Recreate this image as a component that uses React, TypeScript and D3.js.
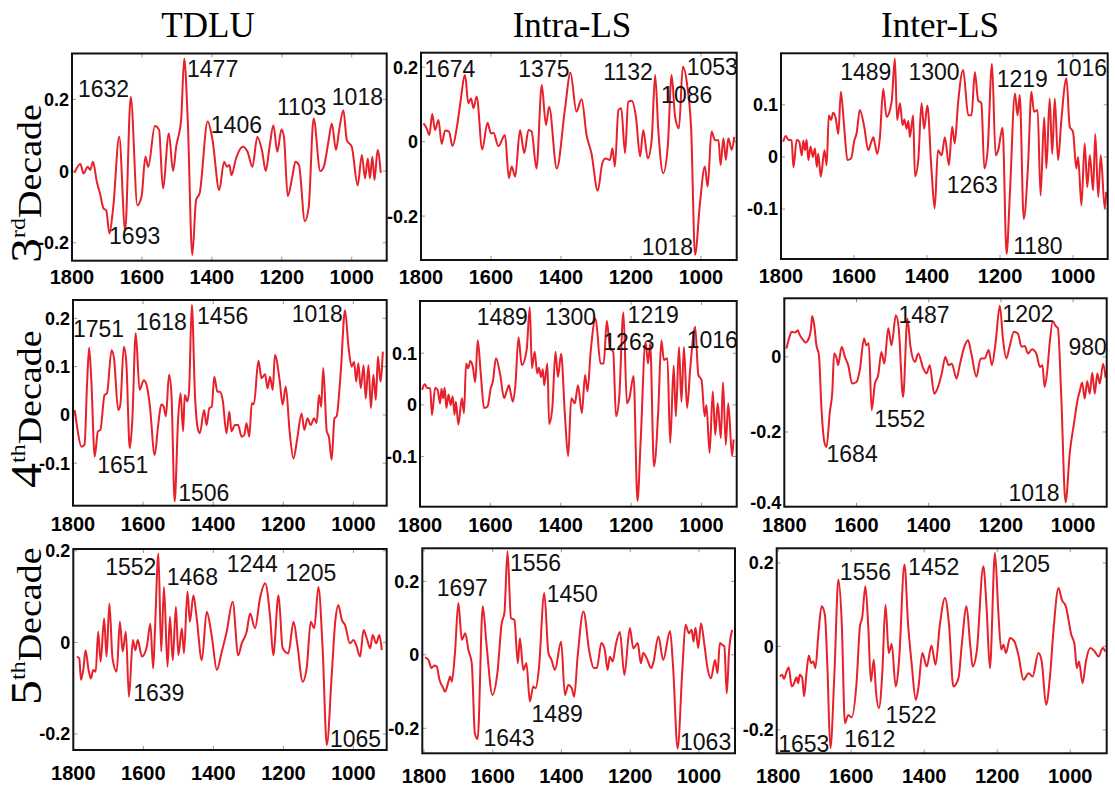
import * as d3 from 'd3'

type Pt = [number, number]
type Note = [string, number, number]

// loadings: [wavenumber, value]
const tdlu3: Pt[] = [
  [1793, -0.005], [1776, 0.02], [1767, -0.007], [1755, 0.012], [1748, 0.003], [1740, 0.026], [1729, -0.03],
  [1720, -0.062], [1710, -0.104], [1702, -0.11], [1693, -0.174], [1682, -0.1], [1665, 0.096], [1648, -0.165],
  [1632, 0.207], [1613, -0.095], [1601, -0.07], [1590, 0.04], [1582, 0.012], [1563, 0.126], [1551, 0.115],
  [1540, -0.048], [1523, 0.105], [1511, 0], [1502, 0.068], [1488, 0.142], [1479, 0.314], [1469, 0.142],
  [1456, -0.234], [1445, -0.08], [1435, -0.062], [1412, 0.138], [1398, 0.086], [1379, -0.053], [1365, 0.026],
  [1357, 0.012], [1350, 0.017], [1344, -0.011], [1331, 0.035], [1312, 0.068], [1298, 0.054], [1284, 0.012],
  [1270, 0.096], [1256, 0.054], [1246, 0], [1235, 0.068], [1224, 0.128], [1213, 0.054], [1201, 0.116],
  [1194, 0.096], [1183, -0.07], [1170, -0.016], [1161, 0.026], [1151, 0.017], [1134, -0.14], [1123, -0.1],
  [1109, 0.147], [1090, 0], [1080, 0.012], [1066, 0.086], [1057, 0.133], [1045, 0.059], [1036, 0.114],
  [1024, 0.17], [1014, 0.086], [1000, 0.068], [983, -0.04], [971, 0.045], [962, -0.02], [954, 0.035],
  [948, -0.02], [941, 0.04], [935, -0.025], [926, 0.059], [917, -0.005],
]

const intra3: Pt[] = [
  [1793, 0.049], [1784, 0.036], [1776, 0.018], [1768, 0.074], [1760, 0.031], [1750, 0.058], [1741, -0.006],
  [1731, 0.03], [1720, 0.027], [1710, -0.012], [1698, 0.036], [1689, 0.094], [1674, 0.179], [1665, 0.103],
  [1657, 0.116], [1650, 0.09], [1641, 0.121], [1625, -0.021], [1610, 0.051], [1600, 0.022], [1593, 0.024],
  [1579, -0.012], [1560, 0.018], [1549, -0.098], [1541, -0.067], [1531, -0.094], [1517, 0.031], [1505, -0.031],
  [1493, 0.031], [1484, 0.027], [1470, -0.072], [1455, 0.152], [1443, 0.045], [1434, 0.094], [1412, -0.072],
  [1389, 0.085], [1373, 0.185], [1356, 0.081], [1341, 0.114], [1327, 0.018], [1313, -0.031], [1295, -0.132],
  [1282, -0.058], [1273, -0.045], [1260, -0.049], [1253, -0.018], [1246, -0.067], [1236, 0.085], [1228, 0.09],
  [1217, -0.031], [1208, 0.107], [1198, 0.11], [1186, 0.067], [1174, -0.04], [1165, 0.031], [1152, -0.045],
  [1141, 0.004], [1131, 0.179], [1122, 0.031], [1108, -0.085], [1095, -0.013], [1084, 0.179], [1074, 0.067],
  [1063, 0.036], [1052, 0.201], [1039, 0.148], [1028, 0.031], [1017, -0.304], [1003, -0.166], [989, -0.067],
  [981, -0.121], [970, 0.027], [960, 0.004], [950, 0.004], [944, -0.063], [936, 0.009], [929, -0.049],
  [922, 0.009], [912, -0.022], [905, 0.013],
]

// the same curve appears for Inter-LS 3rd decade and Intra-LS 4th decade
const inter3: Pt[] = [
  [1794, 0.029], [1787, 0.04], [1780, 0.033], [1771, 0.032], [1766, -0.02], [1757, 0.033], [1750, 0.029],
  [1743, 0.003], [1739, 0.031], [1734, 0.013], [1730, 0.033], [1725, -0.006], [1719, 0.02], [1713, 0],
  [1707, 0.016], [1702, -0.019], [1698, 0.006], [1691, -0.038], [1681, 0.013], [1675, -0.016], [1669, 0.08],
  [1663, 0.071], [1657, 0.085], [1650, 0.074], [1643, 0.044], [1636, 0.125], [1627, 0.058], [1618, -0.006],
  [1608, -0.003], [1599, 0.032], [1593, 0.045], [1584, 0.09], [1572, 0.058], [1561, 0.013], [1554, 0.026],
  [1547, 0.038], [1543, 0.026], [1536, 0.006], [1529, 0.038], [1520, 0.131], [1511, 0.077], [1497, 0.106],
  [1488, 0.189], [1482, 0.071], [1474, 0.103], [1467, 0.061], [1462, 0.072], [1456, 0.054], [1451, 0.069],
  [1447, 0.038], [1438, 0.08], [1433, -0.037], [1424, -0.006], [1415, 0.103], [1408, 0.054], [1399, 0.099],
  [1388, -0.022], [1379, -0.099], [1370, 0.013], [1360, 0.003], [1351, 0.038], [1340, -0.016], [1331, 0.058],
  [1324, 0.026], [1315, 0.103], [1301, 0.167], [1287, 0.08], [1278, 0.08], [1269, 0.163], [1260, 0.109],
  [1251, 0.103], [1243, -0.022], [1234, 0.013], [1222, 0.179], [1212, 0.003], [1205, 0.013], [1193, 0.056],
  [1182, -0.186], [1173, -0.071], [1159, 0.122], [1152, 0.08], [1146, 0.119], [1135, -0.119], [1123, -0.013],
  [1114, 0.125], [1107, 0.087], [1097, 0.09], [1089, -0.074], [1079, 0.076], [1073, -0.022], [1064, 0.112],
  [1057, 0.006], [1050, 0.112], [1041, -0.006], [1032, 0.071], [1018, 0.151], [1009, 0.058], [1000, 0.048],
  [991, -0.022], [986, 0], [977, -0.093], [968, 0.026], [961, -0.058], [954, 0.003], [945, -0.064],
  [939, 0.044], [931, -0.077], [924, 0.003], [913, -0.099], [909, -0.067],
]

const tdlu4: Pt[] = [
  [1795, 0.01], [1789, -0.021], [1776, -0.066], [1767, -0.061], [1760, 0.062], [1754, 0.139], [1748, 0.076],
  [1738, -0.086], [1729, -0.034], [1722, -0.031], [1710, 0.041], [1703, 0.045], [1690, 0.134], [1683, 0.117],
  [1671, 0.01], [1665, 0.021], [1655, 0.141], [1648, 0.11], [1638, -0.069], [1631, -0.014], [1621, 0.169],
  [1610, 0.052], [1598, 0.072], [1590, 0.062], [1581, 0.021], [1567, -0.083], [1557, -0.021], [1548, 0.022],
  [1541, 0.017], [1535, -0.003], [1526, 0.083], [1519, 0.041], [1510, -0.179], [1500, -0.007], [1493, 0.045],
  [1486, -0.034], [1481, 0.041], [1474, 0.028], [1469, 0.048], [1461, 0.228], [1452, 0.041], [1445, -0.024],
  [1438, -0.038], [1426, 0.01], [1419, -0.021], [1411, 0.014], [1404, 0.017], [1397, 0.079], [1388, 0.048],
  [1381, 0.048], [1373, 0.031], [1362, -0.038], [1354, 0.007], [1348, -0.034], [1338, -0.021], [1329, -0.021],
  [1319, -0.045], [1311, -0.041], [1305, -0.017], [1297, -0.045], [1290, 0.024], [1284, 0.022], [1271, 0.112],
  [1262, 0.076], [1252, 0.084], [1245, 0.055], [1238, 0.079], [1230, 0.052], [1224, 0.124], [1210, 0.069],
  [1202, 0.021], [1193, 0.059], [1182, -0.034], [1171, -0.09], [1160, -0.048], [1148, 0.003], [1140, -0.031],
  [1131, -0.007], [1122, -0.021], [1112, -0.007], [1105, -0.017], [1098, 0.041], [1092, 0.017], [1086, 0.097],
  [1076, -0.034], [1070, -0.045], [1062, -0.093], [1054, -0.007], [1048, -0.003], [1036, 0.09], [1024, 0.217],
  [1014, 0.141], [1005, 0.1], [998, 0.11], [992, 0.069], [986, 0.107], [979, 0.055], [971, 0.103], [965, 0.034],
  [957, 0.103], [950, 0.014], [943, 0.083], [936, 0.031], [930, 0.121], [923, 0.069], [916, 0.131],
]

const inter4: Pt[] = [
  [1794, 0.022], [1784, 0.058], [1780, 0.067], [1770, 0.065], [1763, 0.071], [1757, 0.058], [1747, 0.044],
  [1741, 0.038], [1732, 0.049], [1726, 0.076], [1723, 0.109], [1717, 0.084], [1711, 0.031], [1704, 0.004],
  [1697, -0.138], [1689, -0.227], [1683, -0.24], [1674, -0.147], [1667, -0.093], [1662, 0.009], [1655, -0.004],
  [1651, -0.022], [1641, 0.027], [1632, 0], [1623, -0.022], [1612, -0.071], [1600, -0.067], [1591, -0.036],
  [1579, 0.049], [1573, 0.031], [1566, 0.036], [1558, -0.142], [1549, -0.071], [1540, -0.049], [1531, 0.013],
  [1523, -0.018], [1512, 0.076], [1503, 0.031], [1491, 0.111], [1483, 0.076], [1471, -0.107], [1459, 0.102],
  [1451, 0.031], [1438, -0.013], [1429, 0.009], [1415, -0.031], [1406, -0.044], [1397, -0.022], [1385, -0.098],
  [1374, -0.08], [1363, -0.04], [1354, 0], [1345, -0.022], [1336, -0.018], [1323, -0.058], [1314, -0.022],
  [1303, 0.022], [1291, 0.044], [1282, 0.009], [1268, -0.053], [1256, -0.004], [1245, -0.004], [1234, 0.018],
  [1225, -0.022], [1215, 0.036], [1203, 0.136], [1194, 0.044], [1185, -0.004], [1176, 0.027], [1164, 0.067],
  [1153, 0.062], [1143, 0.027], [1134, 0.029], [1125, 0.009], [1114, 0.02], [1102, 0.009], [1092, -0.027],
  [1085, -0.022], [1079, -0.08], [1071, -0.031], [1065, 0.036], [1056, 0.095], [1049, 0.083], [1042, 0.076],
  [1033, -0.102], [1021, -0.387], [1009, -0.253], [997, -0.173], [988, -0.116], [982, -0.093], [975, -0.068],
  [968, -0.111], [961, -0.065], [954, -0.098], [947, -0.042], [940, -0.098], [933, -0.044], [926, -0.071],
  [917, -0.018], [910, -0.056],
]

const tdlu5: Pt[] = [
  [1790, -0.031], [1783, -0.035], [1778, -0.082], [1771, -0.057], [1765, -0.017], [1757, -0.057], [1750, -0.079],
  [1743, -0.06], [1736, -0.064], [1729, 0.023], [1722, -0.042], [1712, 0.052], [1705, -0.031], [1697, 0.085],
  [1688, -0.035], [1676, -0.064], [1667, 0.045], [1659, -0.02], [1650, 0.023], [1641, -0.119], [1630, 0.005],
  [1623, -0.017], [1616, 0.005], [1604, -0.031], [1590, -0.009], [1580, 0.041], [1572, -0.057], [1567, 0.023],
  [1557, 0.194], [1549, -0.02], [1541, 0.121], [1531, -0.053], [1524, 0.056], [1516, -0.039], [1507, 0.078],
  [1500, -0.028], [1490, 0.031], [1484, -0.024], [1474, 0.111], [1467, 0.045], [1457, 0.103], [1448, 0.056],
  [1433, -0.039], [1419, 0.067], [1405, 0.016], [1390, -0.06], [1376, -0.02], [1362, 0.023], [1345, 0.089],
  [1329, -0.028], [1319, -0.002], [1305, 0.023], [1295, 0.063], [1281, 0.031], [1267, 0.096], [1252, 0.129],
  [1238, 0.056], [1229, -0.028], [1214, 0.103], [1202, -0.013], [1186, -0.024], [1171, 0.045], [1160, -0.006],
  [1145, -0.086], [1133, -0.053], [1122, 0.045], [1112, 0.031], [1100, 0.121], [1088, -0.013], [1076, -0.224],
  [1062, -0.071], [1052, 0.045], [1043, 0.081], [1033, 0.049], [1024, 0.038], [1010, -0.002], [1000, 0.005],
  [992, -0.006], [981, -0.031], [971, 0.027], [962, 0.009], [952, -0.013], [945, 0.016], [935, -0.002],
  [926, 0.016], [919, -0.017],
]

const intra5: Pt[] = [
  [1797, -0.007], [1787, -0.014], [1778, -0.036], [1770, -0.029], [1763, -0.032], [1755, -0.068], [1744, -0.091],
  [1739, -0.1], [1729, -0.073], [1724, -0.059], [1719, -0.073], [1710, 0.005], [1700, 0.141], [1690, 0.041],
  [1680, 0.059], [1671, 0.014], [1661, -0.023], [1652, -0.214], [1644, -0.229], [1629, 0.132], [1618, 0.027],
  [1601, -0.109], [1586, -0.045], [1574, 0.086], [1566, 0.114], [1557, 0.282], [1547, 0.1], [1537, 0.095],
  [1527, -0.023], [1521, 0.045], [1511, -0.041], [1502, -0.023], [1492, -0.127], [1482, -0.086], [1475, -0.091],
  [1466, -0.041], [1450, 0.168], [1438, 0.005], [1429, -0.014], [1419, -0.041], [1401, 0.036], [1390, -0.109],
  [1380, -0.082], [1370, -0.091], [1363, -0.114], [1353, -0.005], [1336, 0.118], [1319, 0.009], [1306, -0.036],
  [1297, -0.036], [1284, 0.032], [1274, 0.014], [1266, -0.041], [1259, -0.005], [1251, -0.018], [1242, 0.027],
  [1230, 0.062], [1217, -0.055], [1201, 0.073], [1191, 0.018], [1178, 0.032], [1169, -0.023], [1162, 0.005],
  [1152, -0.009], [1139, -0.036], [1133, -0.023], [1118, 0.05], [1104, -0.014], [1084, 0.065], [1075, -0.036],
  [1062, -0.255], [1048, -0.036], [1039, 0.082], [1029, 0.059], [1021, 0.068], [1016, 0.036], [1010, 0.074],
  [1002, 0.018], [994, 0.086], [984, 0.027], [975, -0.036], [965, -0.064], [953, -0.014], [946, -0.05],
  [939, 0.032], [932, 0.027], [926, 0.023], [919, -0.105], [912, 0.014], [903, 0.068],
]

const inter5: Pt[] = [
  [1795, -0.072], [1789, -0.068], [1784, -0.078], [1777, -0.06], [1771, -0.05], [1763, -0.096], [1756, -0.088],
  [1750, -0.074], [1745, -0.088], [1741, -0.068], [1734, -0.076], [1729, -0.12], [1722, -0.06], [1716, -0.022],
  [1710, -0.04], [1704, -0.036], [1698, -0.052], [1690, 0.028], [1681, 0.096], [1672, 0.076], [1665, -0.052],
  [1657, -0.244], [1646, -0.068], [1635, 0.16], [1626, 0.06], [1617, -0.184], [1608, -0.164], [1599, -0.17],
  [1585, -0.084], [1576, 0.048], [1570, 0.068], [1561, 0.144], [1553, 0.044], [1546, -0.084], [1538, -0.032],
  [1532, -0.108], [1524, -0.148], [1515, -0.068], [1506, 0.1], [1497, -0.016], [1489, 0.006], [1478, -0.096],
  [1469, -0.036], [1454, 0.196], [1444, 0.052], [1434, -0.044], [1423, -0.128], [1416, -0.1], [1405, -0.016],
  [1393, -0.048], [1380, 0.002], [1369, -0.044], [1357, 0.052], [1343, 0.116], [1332, 0.052], [1320, -0.096],
  [1306, -0.076], [1297, 0.004], [1284, 0.096], [1274, 0.004], [1267, -0.048], [1256, -0.012], [1238, 0.192],
  [1229, 0.092], [1220, -0.052], [1206, 0.224], [1197, 0.084], [1189, -0.008], [1183, 0.004], [1176, -0.016],
  [1165, 0.02], [1153, 0.012], [1142, -0.02], [1128, -0.08], [1114, -0.064], [1103, -0.072], [1087, -0.016],
  [1078, -0.036], [1066, -0.14], [1055, -0.068], [1046, 0.036], [1032, 0.14], [1023, 0.112], [1012, 0.096],
  [997, 0.028], [988, 0.004], [982, -0.052], [976, -0.036], [966, -0.088], [957, -0.036], [945, -0.004],
  [933, -0.012], [922, -0.024], [911, -0.004], [904, -0.012],
]

// peak labels: [text, wavenumber, value] at the label's left baseline
const tdlu3Notes: Note[] = [
  ['1632', 1783, 0.207], ['1693', 1694, -0.204], ['1477', 1471, 0.263],
  ['1406', 1403, 0.106], ['1103', 1214, 0.156], ['1018', 1057, 0.184],
]
const intra3Notes: Note[] = [
  ['1674', 1791, 0.175], ['1375', 1522, 0.175], ['1132', 1279, 0.166],
  ['1053', 1041, 0.179], ['1086', 1114, 0.103], ['1018', 1169, -0.304],
]
const inter3Notes: Note[] = [
  ['1489', 1638, 0.147], ['1300', 1451, 0.147], ['1219', 1209, 0.134],
  ['1016', 1047, 0.155], ['1263', 1346, -0.07], ['1180', 1164, -0.186],
]
const tdlu4Notes: Note[] = [
  ['1751', 1800, 0.162], ['1618', 1621, 0.176], ['1456', 1446, 0.188],
  ['1018', 1176, 0.193], ['1651', 1731, -0.12], ['1506', 1500, -0.178],
]
const intra4Notes: Note[] = [
  ['1489', 1639, 0.155], ['1300', 1445, 0.155], ['1219', 1210, 0.158],
  ['1263', 1279, 0.106], ['1016', 1042, 0.11],
]
const inter4Notes: Note[] = [
  ['1487', 1484, 0.089], ['1202', 1196, 0.093], ['980', 1013, 0.005],
  ['1552', 1551, -0.187], ['1684', 1683, -0.28], ['1018', 1179, -0.383],
]
const tdlu5Notes: Note[] = [
  ['1552', 1709, 0.148], ['1468', 1533, 0.125], ['1244', 1362, 0.154],
  ['1205', 1195, 0.135], ['1639', 1629, -0.129], ['1065', 1067, -0.229],
]
const intra5Notes: Note[] = [
  ['1697', 1763, 0.159], ['1556', 1550, 0.228], ['1450', 1443, 0.145],
  ['1643', 1627, -0.249], ['1489', 1487, -0.182], ['1063', 1055, -0.259],
]
const inter5Notes: Note[] = [
  ['1556', 1631, 0.158], ['1452', 1444, 0.171], ['1205', 1195, 0.179],
  ['1653', 1800, -0.253], ['1612', 1619, -0.242], ['1522', 1506, -0.183],
]

const columnTitles = ['TDLU', 'Intra-LS', 'Inter-LS']
const decades = [['3', 'rd'], ['4', 'th'], ['5', 'th']]
const xTicks = [1800, 1600, 1400, 1200, 1000]

// layout: box = [left, top, right, bottom] in px
const panels = [
  { row: 0, data: tdlu3, notes: tdlu3Notes, yTicks: [-0.2, 0, 0.2], box: [72, 53.5, 386.7, 260.7], xd: [1800, 900], yd: [-0.25, 0.328] },
  { row: 0, data: intra3, notes: intra3Notes, yTicks: [-0.2, 0, 0.2], box: [421, 52.7, 736.7, 260], xd: [1800, 898], yd: [-0.318, 0.239] },
  { row: 0, data: inter3, notes: inter3Notes, yTicks: [-0.1, 0, 0.1], box: [781, 53.3, 1107.7, 259], xd: [1800, 905], yd: [-0.196, 0.199] },
  { row: 1, data: tdlu4, notes: tdlu4Notes, yTicks: [-0.1, 0, 0.1, 0.2], box: [73, 300, 386.7, 505.7], xd: [1800, 905], yd: [-0.188, 0.238] },
  { row: 1, data: inter3, notes: intra4Notes, yTicks: [-0.1, 0, 0.1], box: [420, 301, 736.7, 506.7], xd: [1800, 900], yd: [-0.197, 0.201] },
  { row: 1, data: inter4, notes: inter4Notes, yTicks: [-0.4, -0.2, 0], box: [784.3, 298.3, 1106.7, 506.7], xd: [1800, 907], yd: [-0.399, 0.156] },
  { row: 2, data: tdlu5, notes: tdlu5Notes, yTicks: [-0.2, 0, 0.2], box: [73.3, 549, 386.7, 750], xd: [1800, 905], yd: [-0.235, 0.204] },
  { row: 2, data: intra5, notes: intra5Notes, yTicks: [-0.2, 0, 0.2], box: [422.3, 548.3, 735, 753.3], xd: [1805, 895], yd: [-0.268, 0.29] },
  { row: 2, data: inter5, notes: inter5Notes, yTicks: [-0.2, 0, 0.2], box: [776.7, 548.3, 1106.7, 753.3], xd: [1804, 900], yd: [-0.256, 0.235] },
]

const titleX = [208, 572, 940]
const rowLabelY = [263, 488, 705]
const xLabelGap = [23.5, 25, 30]

const sans = "Arial, 'Liberation Sans', sans-serif"
const serif = "'Times New Roman', 'Liberation Serif', serif"

const fmtY = (d: number) => (d === 0 ? '0' : d3.format('.1f')(d).replace('\u2212', '-'))

function Panel({ p, i }: { p: (typeof panels)[number]; i: number }) {
  const [l, t, r, b] = p.box
  const x = d3.scaleLinear().domain(p.xd).range([l, r])
  const y = d3.scaleLinear().domain(p.yd).range([b, t])
  const line = d3.line<Pt>().x(d => x(d[0])).y(d => y(d[1])).curve(d3.curveMonotoneX)
  const clipId = `clip-${i}`

  return (
    <g>
      <clipPath id={clipId}>
        <rect x={l} y={t} width={r - l} height={b - t} />
      </clipPath>
      {xTicks.map(v => (
        <g key={'xt' + v}>
          <line x1={x(v)} x2={x(v)} y1={b} y2={b - 4} stroke="#999" />
          <line x1={x(v)} x2={x(v)} y1={t} y2={t + 4} stroke="#999" />
          <text x={x(v)} y={b + xLabelGap[p.row]} textAnchor="middle" fontFamily={sans} fontWeight="bold" fontSize={20}>
            {v}
          </text>
        </g>
      ))}
      {p.yTicks.map(v => {
        // a label sitting on the bottom edge is nudged up so it clears the x labels
        const nudge = b - y(v) < 3 ? -5 : 0
        return (
          <g key={'yt' + v}>
            <line x1={l} x2={l + 4} y1={y(v)} y2={y(v)} stroke="#999" />
            <line x1={r} x2={r - 4} y1={y(v)} y2={y(v)} stroke="#999" />
            <text x={l - 3} y={y(v) + nudge} dy="0.36em" textAnchor="end" fontFamily={sans} fontWeight="bold" fontSize={18}>
              {fmtY(v)}
            </text>
          </g>
        )
      })}
      <path d={line(p.data) ?? ''} fill="none" stroke="#e8202a" strokeWidth={2} clipPath={`url(#${clipId})`} />
      <rect x={l} y={t} width={r - l} height={b - t} fill="none" stroke="#111" strokeWidth={2} />
      {p.notes.map(([label, w, v], k) => (
        <text key={'n' + k} x={x(w)} y={y(v)} fontFamily={sans} fontSize={23} fill="#111">
          {label}
        </text>
      ))}
    </g>
  )
}

export default function App() {
  return (
    <svg width={1115} height={789} style={{ position: 'absolute', left: 0, top: 0, background: '#fff' }}>
      {columnTitles.map((c, k) => (
        <text key={c} x={titleX[k]} y={36.7} textAnchor="middle" fontFamily={serif} fontSize={35}>
          {c}
        </text>
      ))}
      {decades.map(([n, suf], k) => (
        <text key={n} transform={`translate(41, ${rowLabelY[k]}) rotate(-90) scale(1, 0.9)`} fontFamily={serif}>
          <tspan fontSize={50}>{n}</tspan>
          <tspan fontSize={24} dy={-18}>{suf}</tspan>
          <tspan fontSize={38} dy={18}>Decade</tspan>
        </text>
      ))}
      {panels.map((p, i) => (
        <Panel key={i} p={p} i={i} />
      ))}
    </svg>
  )
}
